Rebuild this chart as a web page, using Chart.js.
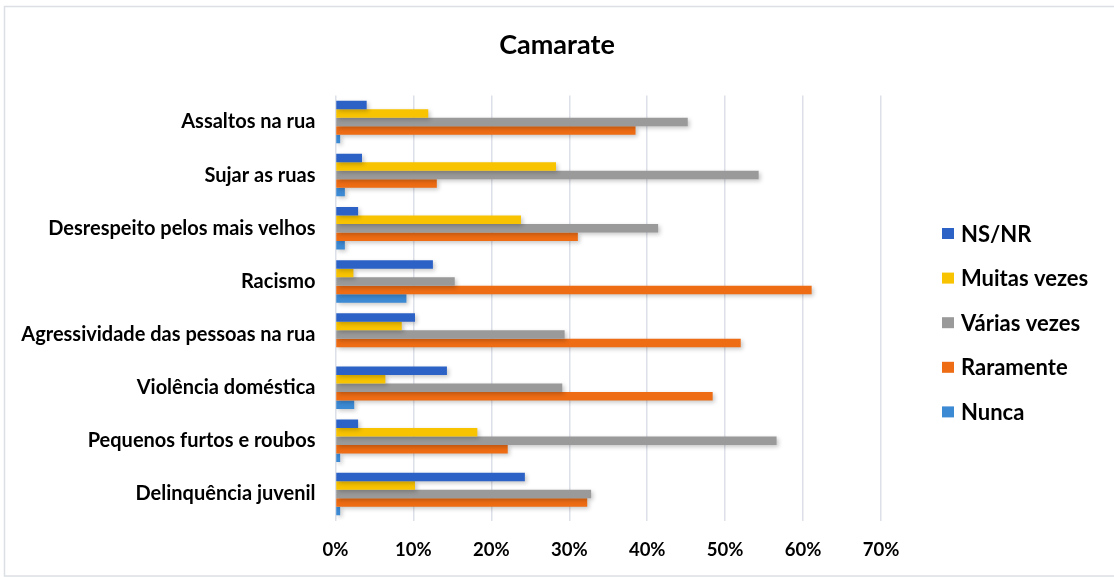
<!DOCTYPE html>
<html>
<head>
<meta charset="utf-8">
<script src="https://cdn.jsdelivr.net/npm/chart.js@4.4.0/dist/chart.umd.min.js"></script>
<style>
  body { margin: 0; background: #fff; }
</style>
</head>
<body>
<canvas id="camarateChart" width="1114" height="577"></canvas>
<script>
    // categorias, de cima para baixo
    const categorias = [
        'Assaltos na rua',
        'Sujar as ruas',
        'Desrespeito pelos mais velhos',
        'Racismo',
        'Agressividade das pessoas na rua',
        'Violência doméstica',
        'Pequenos furtos e roubos',
        'Delinquência juvenil'
    ];

    // valores em %
    const nsnr        = [4.0, 3.4, 2.9, 12.5, 10.2, 14.3, 2.9, 24.3];
    const muitasVezes = [11.9, 28.3, 23.8, 2.3, 8.5, 6.4, 18.2, 10.2];
    const variasVezes = [45.2, 54.3, 41.4, 15.3, 29.4, 29.1, 56.6, 32.8];
    const raramente   = [38.5, 13.0, 31.1, 61.1, 52.0, 48.4, 22.1, 32.3];
    const nunca       = [0.6, 1.2, 1.2, 9.1, 0, 2.4, 0.6, 0.6];

    const ticksX = [0, 10, 20, 30, 40, 50, 60, 70];

    const fonte = 'Lato, "Open Sans", sans-serif';

    // moldura cinza à volta do gráfico
    const moldura = {
        id: 'moldura',
        beforeDraw(chart) {
            const ctx = chart.ctx;
            ctx.save();
            ctx.fillStyle = '#fff';
            ctx.fillRect(0, 0, chart.width, chart.height);
            ctx.strokeStyle = '#dcdfe4';
            ctx.lineWidth = 1.5;
            ctx.strokeRect(4.5, 6.5, chart.width + 10, chart.height - 7.5);
            ctx.restore();
        }
    };

    // espaço reservado à direita para a legenda (o título continua centrado no gráfico todo)
    const espacoLegenda = {
        id: 'espacoLegenda',
        beforeInit(chart) {
            const caixa = {
                position: 'right',
                weight: 2000,
                fullSize: false,
                options: {},
                top: 0, left: 0, right: 0, bottom: 0, width: 0, height: 0,
                isHorizontal() { return false; },
                update(maxWidth, maxHeight) {
                    this.width = 233;
                    this.height = maxHeight;
                },
                draw() {}
            };
            Chart.layouts.addBox(chart, caixa);
        }
    };

    // sombra leve nas barras
    const sombra = {
        id: 'sombra',
        beforeDatasetsDraw(chart) {
            const ctx = chart.ctx;
            ctx.save();
            ctx.shadowColor = 'rgba(0,0,0,0.22)';
            ctx.shadowBlur = 4;
            ctx.shadowOffsetX = 2;
            ctx.shadowOffsetY = 2;
        },
        afterDatasetsDraw(chart) {
            chart.ctx.restore();
        }
    };

    // legenda à direita
    const legenda = {
        id: 'legenda',
        afterDraw(chart) {
            const ctx = chart.ctx;
            ctx.save();
            ctx.font = 'bold 22px ' + fonte;
            ctx.textBaseline = 'middle';
            chart.data.datasets.forEach(function(ds, i) {
                const y = 233.5 + i * 44.6;
                ctx.fillStyle = ds.backgroundColor;
                ctx.fillRect(942, y - 5.5, 12, 11);
                ctx.fillStyle = '#000';
                ctx.fillText(ds.label, 961, y + 1);
            });
            ctx.restore();
        }
    };

    const ctx = document.getElementById('camarateChart');
    new Chart(ctx, {
        type: 'bar',
        data: {
            labels: categorias,
            datasets: [
                { label: 'NS/NR', data: nsnr, backgroundColor: '#2c62c6' },
                { label: 'Muitas vezes', data: muitasVezes, backgroundColor: '#f8c300' },
                { label: 'Várias vezes', data: variasVezes, backgroundColor: '#9a9a9a' },
                { label: 'Raramente', data: raramente, backgroundColor: '#ee6c14' },
                { label: 'Nunca', data: nunca, backgroundColor: '#3d8ad4' }
            ]
        },
        options: {
            indexAxis: 'y',
            responsive: false,
            animation: false,
            categoryPercentage: 0.8,
            barPercentage: 1.0,
            layout: {
                padding: { top: 0, right: 0, bottom: 17.5, left: 0 }
            },
            plugins: {
                legend: { display: false },
                tooltip: { enabled: false },
                title: {
                    display: true,
                    text: 'Camarate',
                    color: '#000',
                    font: { family: fonte, size: 27, weight: 'bold' },
                    padding: { top: 29, bottom: 34 }
                }
            },
            scales: {
                x: {
                    min: 0,
                    max: 70,
                    afterBuildTicks: function(scale) {
                        scale.ticks = ticksX.map(function(v) { return { value: v }; });
                    },
                    afterFit: function(scale) {
                        scale.height = 39;
                    },
                    ticks: {
                        padding: 18,
                        maxRotation: 0,
                        color: '#000',
                        font: { family: fonte, size: 18.5, weight: 'bold' },
                        callback: function(v) { return v + '%'; }
                    },
                    grid: {
                        color: '#dde0e8',
                        lineWidth: 1.5,
                        drawTicks: false
                    },
                    border: { display: false }
                },
                y: {
                    afterFit: function(scale) {
                        scale.width = 335.5;
                    },
                    ticks: {
                        padding: 20,
                        color: '#000',
                        font: { family: fonte, size: 20, weight: 'bold' }
                    },
                    grid: { display: false, drawTicks: false },
                    border: { display: false }
                }
            }
        },
        plugins: [moldura, espacoLegenda, sombra, legenda]
    });
</script>
</body>
</html>
